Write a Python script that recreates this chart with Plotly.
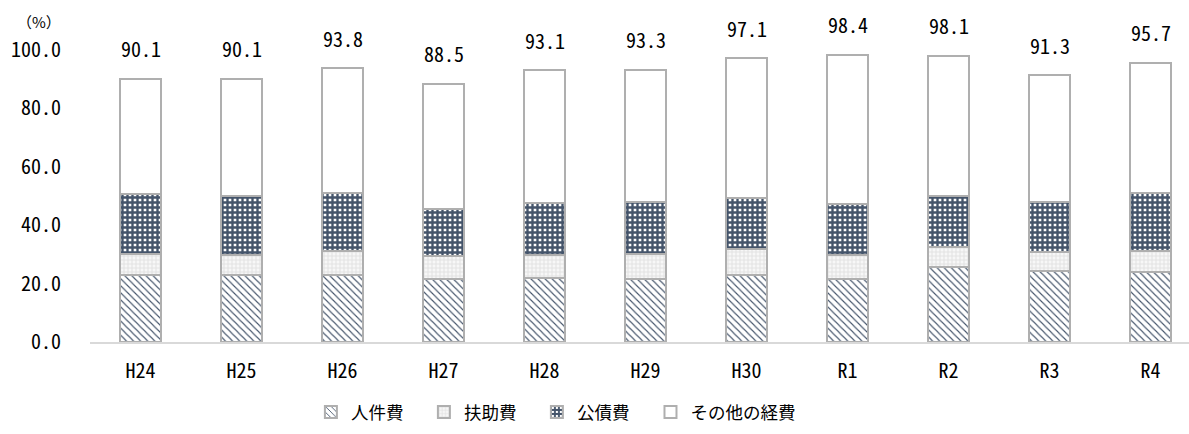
import plotly.graph_objects as go

# Fiscal years (Heisei 24 .. Reiwa 4)
years = ["H24", "H25", "H26", "H27", "H28", "H29", "H30", "R1", "R2", "R3", "R4"]

# Share of each expense type (%)
personnel = [23.1, 23.1, 23.1, 21.6, 21.8, 21.5, 22.9, 21.5, 25.6, 24.3, 24.1]
assistance = [7.1, 6.8, 8.2, 8.0, 8.0, 8.7, 9.1, 8.3, 6.9, 6.5, 7.2]
debt_service = [20.5, 20.2, 19.9, 16.0, 17.7, 17.7, 17.2, 17.5, 17.6, 17.3, 19.9]
other = [39.4, 40.0, 42.6, 42.9, 45.6, 45.4, 47.9, 51.1, 48.0, 43.2, 44.5]

y_ticks = [0, 20, 40, 60, 80, 100]

NAVY = "#44546A"
EDGE = "#AFAFAF"
NUM_FONT = "Noto Sans Mono CJK JP, DejaVu Sans Mono, monospace"
JP_FONT = "Noto Sans CJK JP, sans-serif"

series = [
    ("人件費", personnel, dict(shape="\\", fgcolor=NAVY, bgcolor="white", size=5, solidity=0.22), "legend"),
    ("扶助費", assistance, dict(shape="+", fgcolor="#E3E3E3", bgcolor="#F7F7F7", size=4, solidity=0.45), "legend"),
    ("公債費", debt_service, dict(shape="+", fgcolor=NAVY, bgcolor="white", size=5, solidity=0.72), "legend"),
    ("その他の経費", other, None, "legend2"),
]

fig = go.Figure()
for name, vals, pattern, leg in series:
    marker = dict(color="white", line=dict(color=EDGE, width=2))
    if pattern is not None:
        marker["pattern"] = dict(fillmode="replace", **pattern)
    fig.add_trace(go.Bar(
        x=years, y=vals, name=name, marker=marker, width=0.4,
        legend=leg, hoverinfo="skip",
    ))

# Total labels above each stack
totals = [round(a + b + c + d, 1) for a, b, c, d in zip(personnel, assistance, debt_service, other)]
for yr, tot in zip(years, totals):
    fig.add_annotation(
        x=yr, y=tot, text=f"{tot:.1f}", showarrow=False,
        yanchor="middle", yshift=30,
        font=dict(family=NUM_FONT, size=20, color="#000000"),
    )

fig.add_annotation(
    xref="paper", yref="paper", x=-0.046, y=1.096,
    xanchor="center", yanchor="middle",
    text="（%）", showarrow=False,
    font=dict(family=JP_FONT, size=15, color="#000000"),
)

legend_font = dict(family=JP_FONT, size=17.5, color="#000000")

fig.update_layout(
    width=1189, height=434,
    margin=dict(l=90, r=0, t=50, b=92),
    paper_bgcolor="white", plot_bgcolor="white",
    barmode="stack",
    showlegend=True,
    legend=dict(
        orientation="h", x=0.201, xanchor="left", y=-0.24, yanchor="middle",
        font=legend_font, traceorder="normal", itemwidth=30,
        entrywidth=68, entrywidthmode="pixels",
    ),
    legend2=dict(
        orientation="h", x=0.51, xanchor="left", y=-0.24, yanchor="middle",
        font=legend_font, itemwidth=30,
    ),
    xaxis=dict(
        range=[-0.5, 10.38], showgrid=False, showline=True,
        linecolor="#D9D9D9", linewidth=2,
        ticks="outside", ticklen=10, tickcolor="rgba(0,0,0,0)",
        tickfont=dict(family=NUM_FONT, size=20, color="#000000"),
    ),
    yaxis=dict(
        range=[0, 100], tickvals=y_ticks, tickformat=".1f",
        showgrid=False, zeroline=False, showline=False,
        ticks="outside", ticklen=24, tickcolor="rgba(0,0,0,0)",
        tickfont=dict(family=NUM_FONT, size=20, color="#000000"),
    ),
)

fig.write_html("out.html")
